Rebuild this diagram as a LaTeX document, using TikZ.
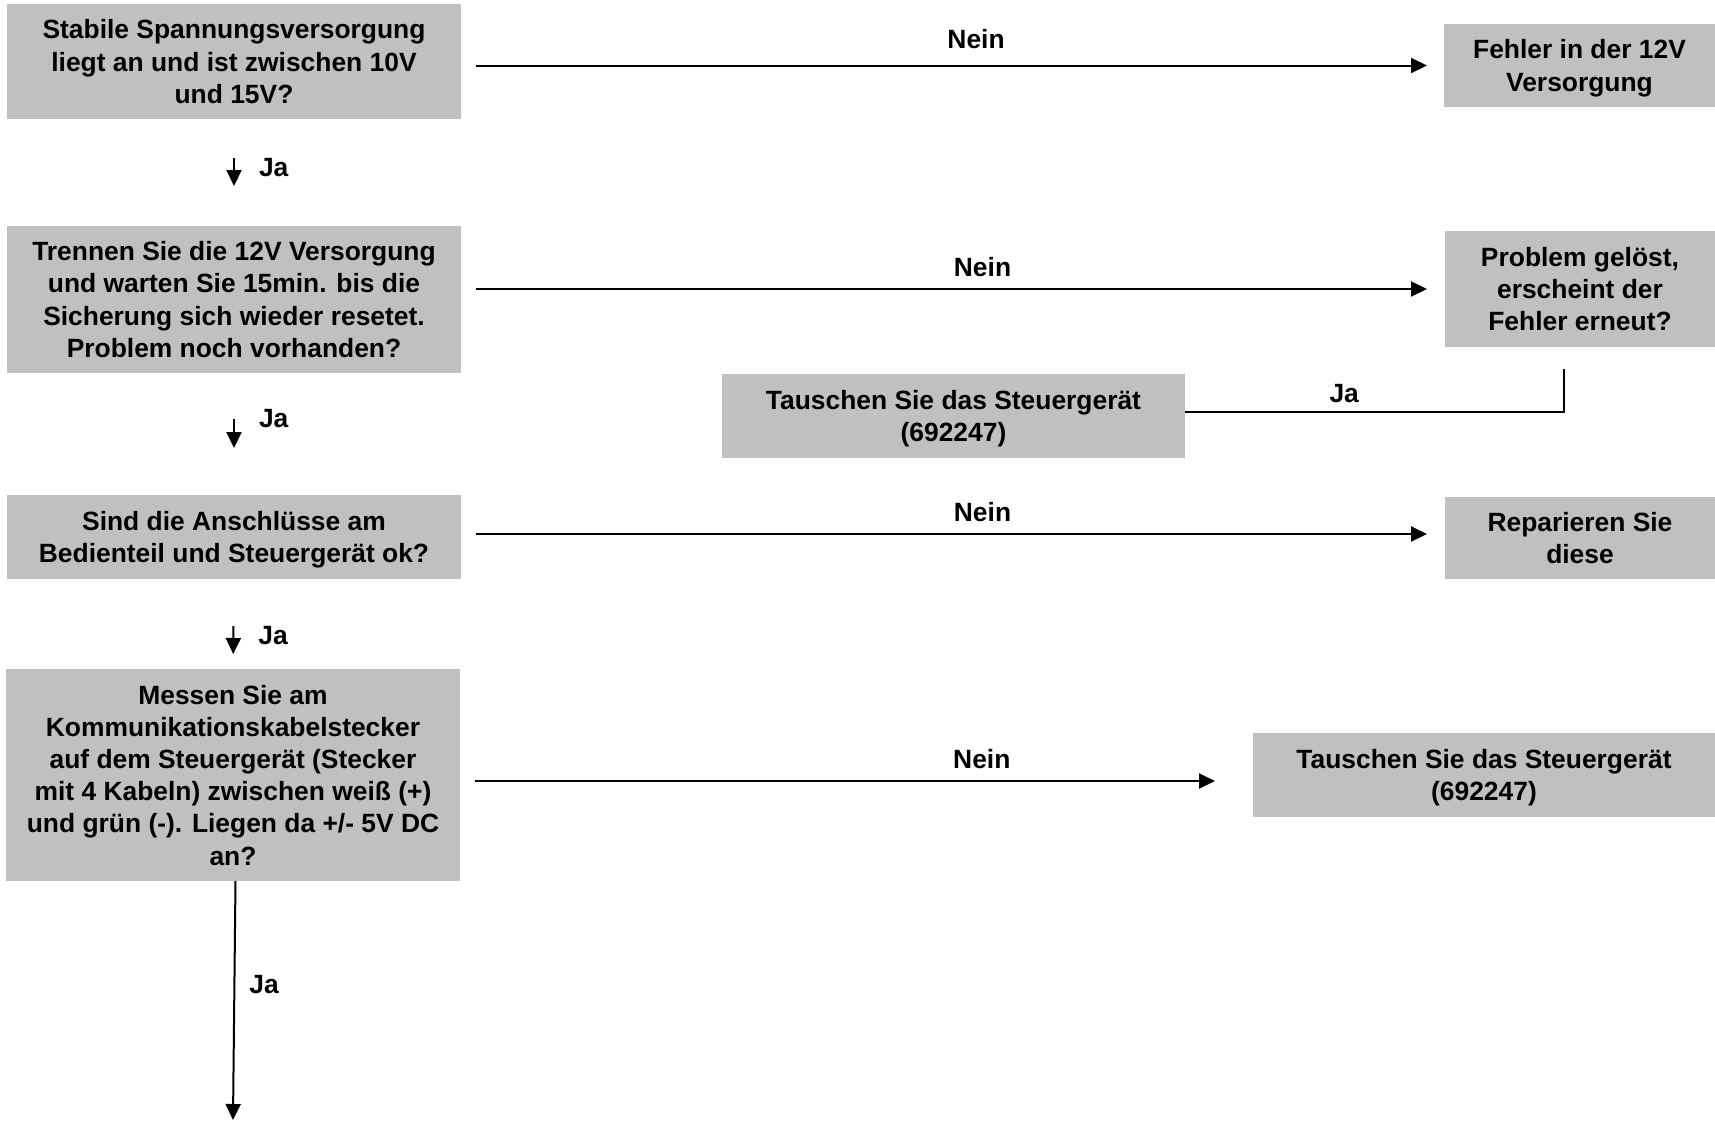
\documentclass[tikz,border=0pt]{standalone}
\usepackage{fontspec}
\setmainfont{Liberation Sans}
\usepackage{tikz}
\usetikzlibrary{arrows.meta}

\tikzset{
  box/.style={rectangle, fill={rgb,255:red,192;green,192;blue,192}, inner sep=0pt, outer sep=0pt,
    align=center, text depth=0pt, font=\fontsize{13.2}{16.1}\selectfont\bfseries},
  lbl/.style={inner sep=0pt, font=\fontsize{13.2}{16.1}\selectfont\bfseries},
  conn/.style={line width=1pt}
}

\begin{document}
\begin{tikzpicture}[x=0.5pt, y=-0.5pt, >={Triangle[length=8pt,width=7.5pt]}]
  \useasboundingbox (0,0) rectangle (1715,1121);

  \node [box, minimum width=227pt, minimum height=57.5pt] (q1) at (234,61.5)
    {Stabile Spannungsversorgung\\liegt an und ist zwischen 10V\\und 15V?};
  \node [box, minimum width=135.5pt, minimum height=41.5pt] (err) at (1579.5,65.5)
    {Fehler in der 12V\\Versorgung};
  \node [box, minimum width=227pt, minimum height=73.5pt] (q2) at (234,299.5)
    {Trennen Sie die 12V Versorgung\\und warten Sie 15min. bis die\\Sicherung sich wieder resetet.\\Problem noch vorhanden?};
  \node [box, minimum width=135pt, minimum height=58pt] (solved) at (1580,289)
    {Problem gelöst,\\erscheint der\\Fehler erneut?};
  \node [box, minimum width=231.5pt, minimum height=42pt] (swap1) at (953.5,416)
    {Tauschen Sie das Steuergerät\\(692247)};
  \node [box, minimum width=227pt, minimum height=42pt] (q3) at (234,537)
    {Sind die Anschlüsse am\\Bedienteil und Steuergerät ok?};
  \node [box, minimum width=135pt, minimum height=41pt] (fix) at (1580,538)
    {Reparieren Sie\\diese};
  \node [box, minimum width=227pt, minimum height=106pt] (q4) at (233,775)
    {Messen Sie am\\Kommunikationskabelstecker\\auf dem Steuergerät (Stecker\\mit 4 Kabeln) zwischen weiß (+)\\und grün (-). Liegen da +/- 5V DC\\an?};
  \node [box, minimum width=231pt, minimum height=42pt] (swap2) at (1484,775)
    {Tauschen Sie das Steuergerät\\(692247)};
  \coordinate (out) at (233,1120);

  % Nein
  \draw [->, conn, shorten <=7.5pt, shorten >=8.5pt] (q1.east |- err.west) -- node[lbl, pos=0.524, above=8pt] {Nein} (err.west);
  \draw [->, conn, shorten <=7.5pt, shorten >=9pt] (q2.east |- solved.west) -- node[lbl, pos=0.53, above=5.5pt] {Nein} (solved.west);
  \draw [->, conn, shorten <=7.5pt, shorten >=9pt] ([yshift=2pt]q3.east |- fix.west) -- node[lbl, pos=0.53, above=5.5pt] {Nein} ([yshift=2pt]fix.west);
  \draw [->, conn, shorten <=7.5pt, shorten >=19pt] ([yshift=-3pt]q4.east) -- node[lbl, pos=0.658, above=5.5pt] {Nein} ([yshift=-3pt]swap2.west);

  % Ja
  \draw [->, conn, shorten <=19.5pt, shorten >=20pt] (q1.south) -- node[lbl, pos=0.45, right=12pt] {Ja} (q2.north);
  \draw [->, conn, shorten <=23pt, shorten >=23.5pt] (q2.south) -- node[lbl, pos=0.37, right=12pt] {Ja} (q3.north);
  \draw [->, conn, shorten <=23.5pt, shorten >=7.5pt] (q3.south) -- node[lbl, pos=0.63, right=12pt] {Ja} (q4.north);
  \draw [->, conn] ([xshift=1.25pt]q4.south) -- node[lbl, pos=0.435, right=7pt] {Ja} (out);
  \draw [conn] ([xshift=-8pt, yshift=-11pt]solved.south) |- node[lbl, pos=0.79, above=4pt] {Ja} ([yshift=2pt]swap1.east);
\end{tikzpicture}
\end{document}
